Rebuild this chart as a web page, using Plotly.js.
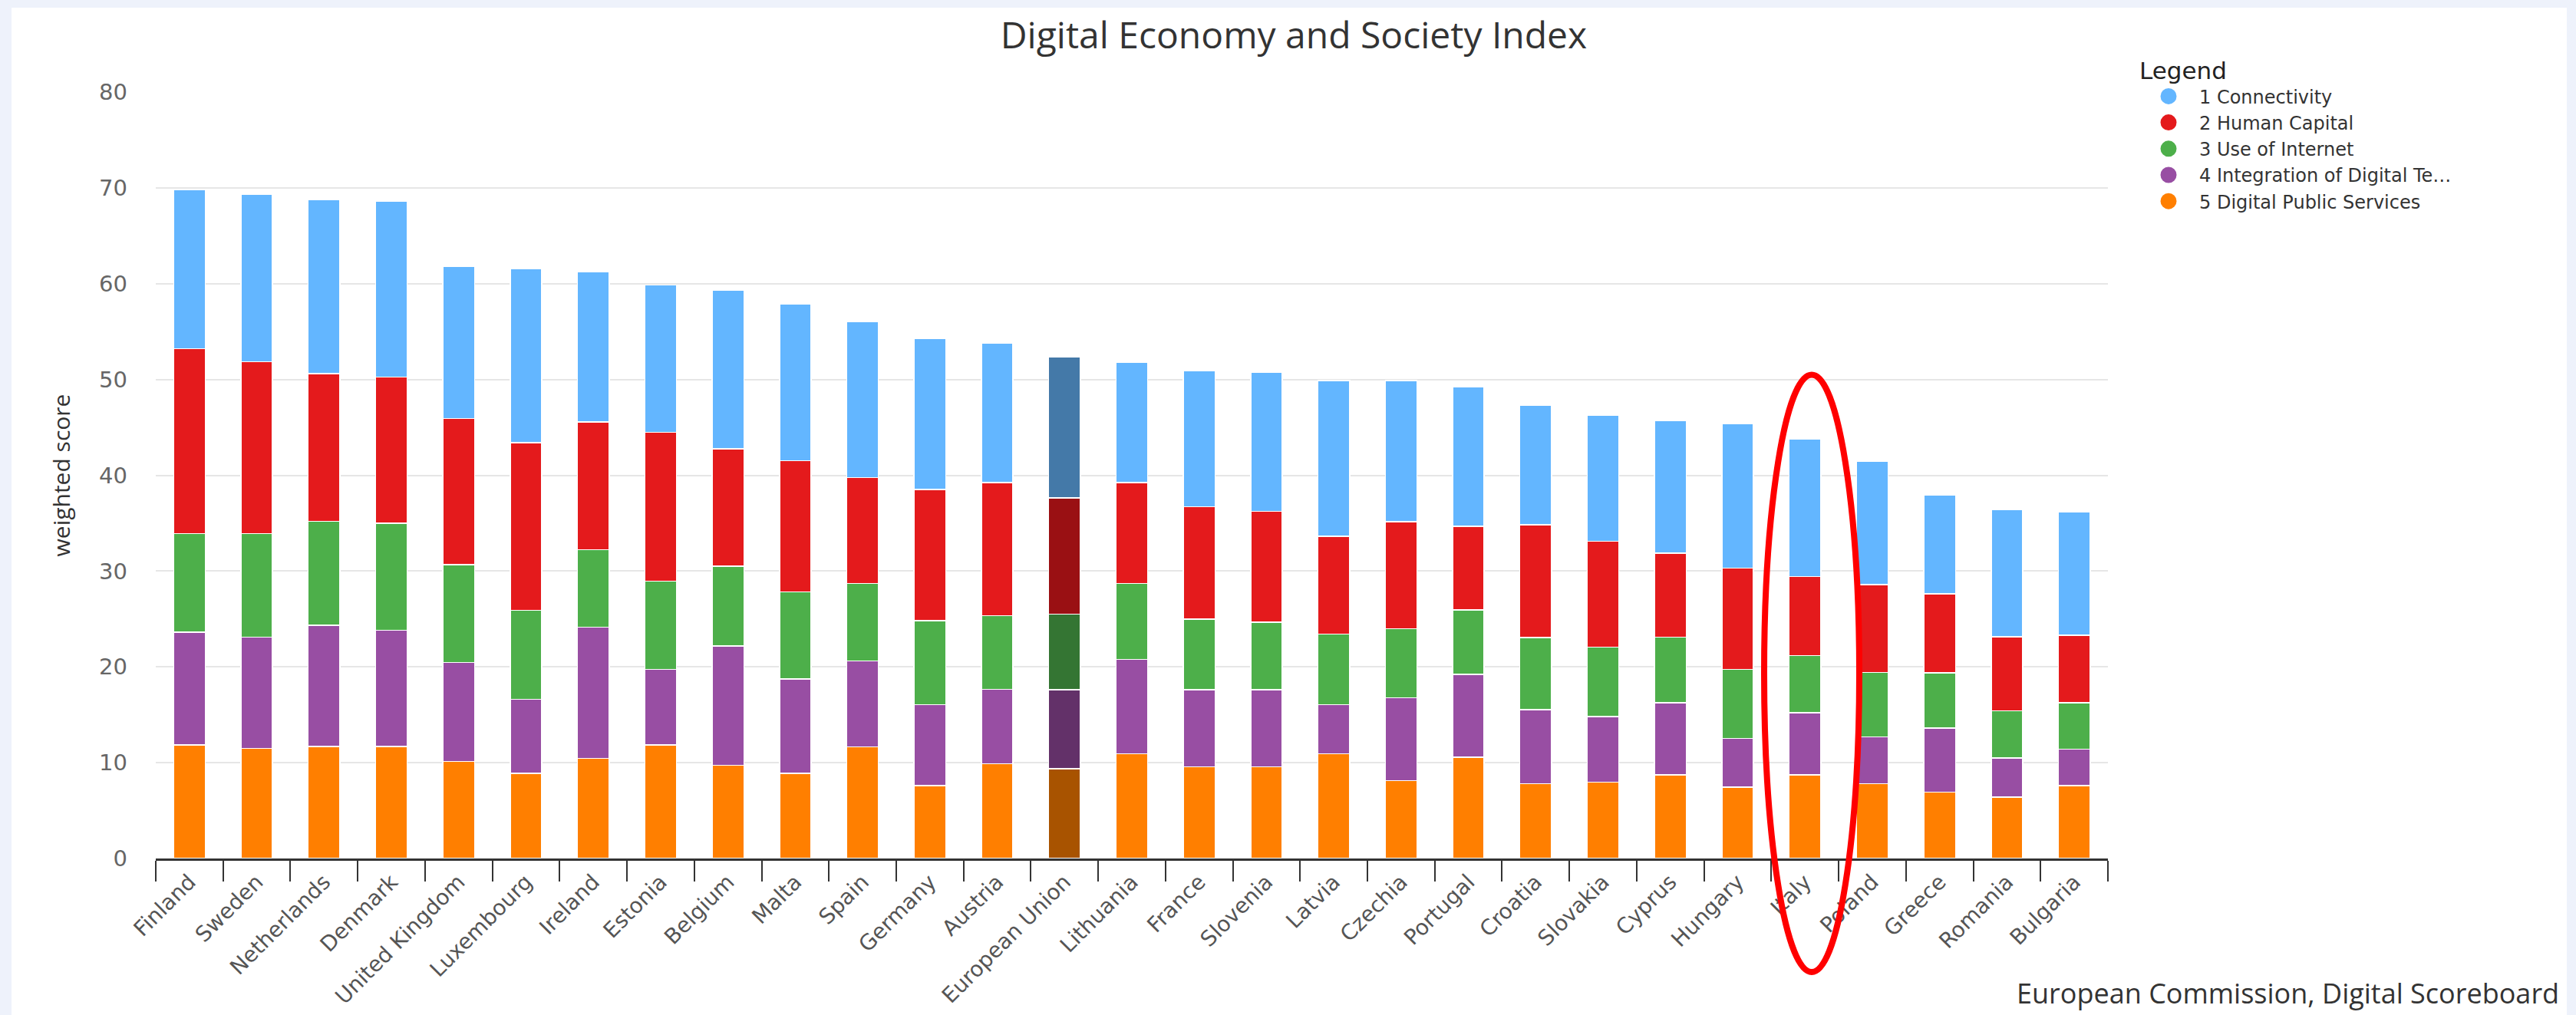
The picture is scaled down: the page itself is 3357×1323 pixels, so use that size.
<!DOCTYPE html>
<html><head><meta charset="utf-8">
<script src="https://cdn.plot.ly/plotly-3.0.1.min.js"></script>
<style>
html,body{margin:0;padding:0;background:#eef2fb;width:3357px;height:1323px;overflow:hidden;}
#chart{position:absolute;left:15px;top:10px;width:3330px;height:1313px;background:#fff;}
</style></head><body><div id="chart"></div><script>
// ---- data ----
const categories = ['Finland','Sweden','Netherlands','Denmark','United Kingdom','Luxembourg','Ireland','Estonia','Belgium','Malta','Spain','Germany','Austria','European Union','Lithuania','France','Slovenia','Latvia','Czechia','Portugal','Croatia','Slovakia','Cyprus','Hungary','Italy','Poland','Greece','Romania','Bulgaria'];
const connectivity   = [16.65,17.50,18.17,18.36,15.87,18.16,15.72,15.36,16.58,16.38,16.32,15.74,14.56,14.72,12.60,14.19,14.52,16.28,14.73,14.52,12.47,13.12,13.81,15.05,14.35,12.89,10.28,13.24,12.90];
const humanCapital   = [19.27,17.91,15.41,15.26,15.26,17.50,13.32,15.56,12.25,13.72,11.04,13.70,13.86,12.11,10.51,11.74,11.58,10.18,11.20,8.75,11.78,11.06,8.79,10.55,8.25,9.17,8.25,7.71,7.02];
const useOfInternet  = [10.31,10.82,10.86,11.17,10.20,9.29,8.11,9.19,8.32,9.09,8.10,8.76,7.69,7.89,7.93,7.36,7.03,7.37,7.20,6.71,7.52,7.25,6.83,7.21,5.98,6.72,5.75,4.95,4.87];
const integration    = [11.78,11.63,12.66,12.15,10.31,7.75,13.67,7.90,12.45,9.84,8.95,8.46,7.77,8.26,9.86,8.06,8.06,5.15,8.63,8.63,7.75,6.83,7.56,5.11,6.49,4.91,6.71,4.07,3.80];
const publicServices = [11.84,11.48,11.68,11.68,10.15,8.88,10.46,11.84,9.74,8.88,11.66,7.61,9.90,9.37,10.92,9.57,9.57,10.92,8.14,10.59,7.79,7.98,8.71,7.44,8.71,7.79,6.91,6.41,7.60];
const seriesNames = ['1 Connectivity','2 Human Capital','3 Use of Internet','4 Integration of Digital Te\u2026','5 Digital Public Services'];
const highlight = 'European Union';

// ---- styling ----
const colors     = ['#63b6ff','#e41a1c','#4daf4a','#984ea3','#ff7f00'];
const darkColors = ['#4479a8','#9a1013','#347533','#633169','#a85300'];
const seriesValues = [connectivity, humanCapital, useOfInternet, integration, publicServices];

const traces = [];
// stacked bottom -> top: series 5,4,3,2,1
for (let i = 4; i >= 0; i--) {
  traces.push({
    type:'bar', x:categories, y:seriesValues[i], name:seriesNames[i], showlegend:false,
    marker:{color:categories.map(c => c===highlight ? darkColors[i] : colors[i]), line:{color:'#ffffff', width:1.5}},
    hoverinfo:'x+y+name'
  });
}
// legend entries with circle symbols
for (let i = 0; i < 5; i++) {
  traces.push({type:'scatter', mode:'markers', x:[null], y:[null], name:seriesNames[i],
    marker:{color:colors[i], size:16, line:{color:colors[i], width:5}}, hoverinfo:'skip'});
}

const W = 3330, H = 1313, L = 188, R = 598, T = 110, B = 204;
const pw = W - L - R, ph = H - T - B;

const layout = {
  width:W, height:H,
  margin:{l:L, r:R, t:T, b:B, pad:0},
  paper_bgcolor:'#ffffff', plot_bgcolor:'#ffffff',
  barmode:'stack', bargap:0.53,
  font:{family:'DejaVu Sans, Verdana, sans-serif', color:'#555'},
  title:{text:'Digital Economy and Society Index', x:1671/W, xref:'container', xanchor:'center',
         y:1-36/H, yref:'container', yanchor:'middle',
         font:{family:'Open Sans, sans-serif', size:48, color:'#333'}},
  xaxis:{type:'category', tickangle:-45, ticks:'outside', tickson:'boundaries', ticklen:27, tickwidth:2,
         tickcolor:'#333', showline:true, linecolor:'#333', linewidth:3, showgrid:false,
         tickfont:{family:'DejaVu Sans, Verdana, sans-serif', size:28, color:'#555'}, fixedrange:true},
  yaxis:{range:[0,80], dtick:10, tick0:0, showgrid:true, gridcolor:'#e6e6e6', gridwidth:2,
         zeroline:false, showline:false, ticks:'', ticklabelstandoff:36,
         tickfont:{family:'DejaVu Sans, Verdana, sans-serif', size:29, color:'#666'},
         title:{text:'weighted score', standoff:28, font:{family:'Open Sans, sans-serif', size:30, color:'#333'}}},
  legend:{x:(2771-L)/pw, xanchor:'left', y:(H-B-53)/ph, yanchor:'top', traceorder:'normal', itemwidth:70,
          bgcolor:'rgba(0,0,0,0)', font:{family:'DejaVu Sans, Verdana, sans-serif', size:24, color:'#333'},
          title:{text:'Legend', side:'top', font:{family:'DejaVu Sans, Verdana, sans-serif', size:31, color:'#222'}},
          itemclick:false, itemdoubleclick:false},
  annotations:[{text:'European Commission, Digital Scoreboard', xref:'paper', yref:'paper',
                x:(3322-L)/pw, xanchor:'right', y:(H-B-1311)/ph, yanchor:'bottom', showarrow:false,
                font:{family:'Open Sans, sans-serif', size:36, color:'#333'}}],
  shapes:[{type:'circle', xref:'paper', yref:'paper',
           x0:(2284-L)/pw, x1:(2408-L)/pw, y0:(H-B-1257)/ph, y1:(H-B-478.5)/ph,
           line:{color:'#ff0000', width:8}, layer:'above'}]
};

Plotly.newPlot('chart', traces, layout, {displayModeBar:false, staticPlot:true});
</script></body></html>
